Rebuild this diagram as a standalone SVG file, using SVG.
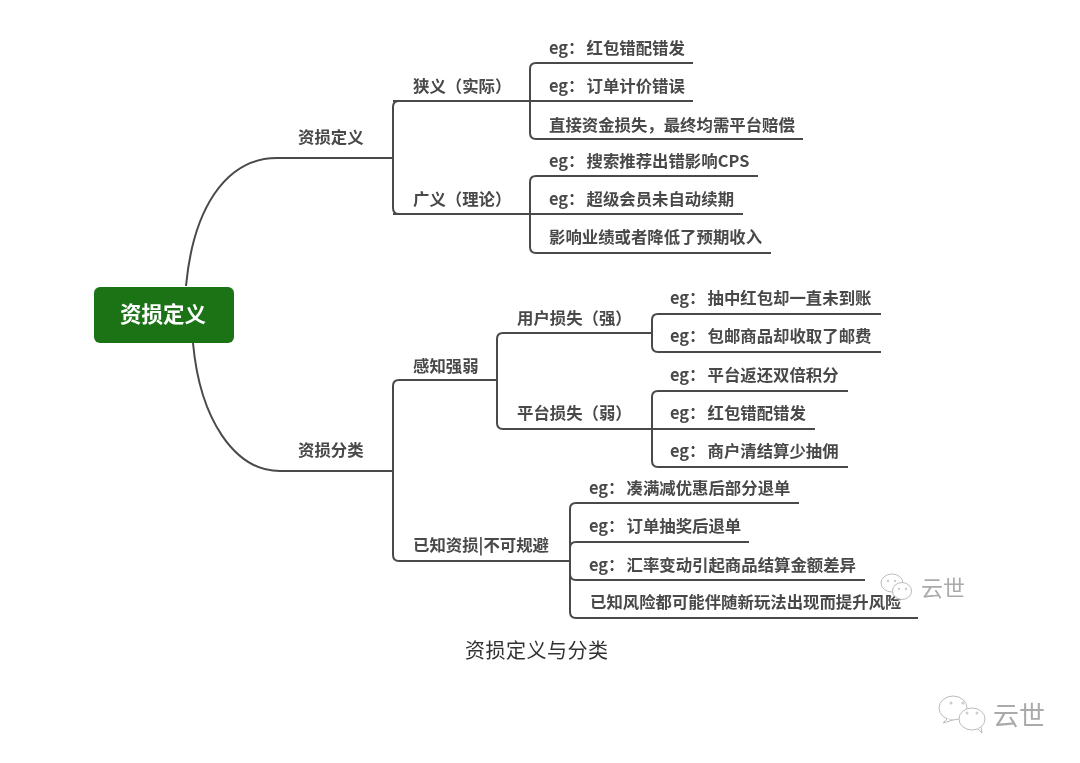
<svg xmlns="http://www.w3.org/2000/svg" width="1080" height="763" viewBox="0 0 1080 763">
<style>
text{font-family:"Noto Sans CJK SC","Noto Sans",sans-serif}
.l{font-size:16.400px;font-weight:700;fill:#484848}
.c{fill:none;stroke:#4a4a4a;stroke-width:2}
.wm{fill:#aaa;font-weight:400}
.b{fill:#fff;stroke:#bbb;stroke-width:1}
.d{fill:#ccc}
</style>
<defs><filter id="soft" x="-5%" y="-5%" width="110%" height="110%"><feGaussianBlur stdDeviation="0.55"/></filter></defs>
<rect width="1080" height="763" fill="#fff"/>
<g filter="url(#soft)">
<g id="connectors" class="c">
<path class="c" d="M186 286C193 210 225 158 277 158H393"/>
<path class="c" d="M193 343C200 420 235 471 280 471H393"/>
<path class="c" d="M413 101H399Q393 101 393 107V208Q393 214 399 214H413"/>
<path class="c" d="M393 101H530M393 214H530"/>
<path class="c" d="M693 63H536Q530 63 530 69V133Q530 139 536 139H803M530 101H693"/>
<path class="c" d="M758 176H536Q530 176 530 182V247Q530 253 536 253H771M530 214H743"/>
<path class="c" d="M497 380H399Q393 380 393 386V555Q393 561 399 561H570"/>
<path class="c" d="M652 333H503Q497 333 497 339V423Q497 429 503 429H815"/>
<path class="c" d="M881 314H658Q652 314 652 320V346Q652 352 658 352H881"/>
<path class="c" d="M848 391H658Q652 391 652 397V461Q652 467 658 467H848"/>
<path class="c" d="M799 503H576Q570 503 570 509V612Q570 618 576 618H918"/>
<path class="c" d="M749 542H576Q570 542 570 548M570 574Q570 580 576 580H865"/>
</g>
<g id="root"><rect x="94" y="287" width="140" height="56" rx="6" fill="#1b7318"/><text x="120" y="322" font-size="21.500" font-weight="700" fill="#fff">资损定义</text></g>
<g id="n1"><text class="l" x="298" y="143">资损定义</text></g>
<g id="n2"><text class="l" x="298" y="456">资损分类</text></g>
<g id="n3"><text class="l" x="413" y="92">狭义（实际）</text></g>
<g id="n4"><text class="l" x="413" y="205">广义（理论）</text></g>
<g id="n5"><text class="l" x="413" y="372">感知强弱</text></g>
<g id="n6"><text class="l" x="413" y="551">已知资损|不可规避</text></g>
<g id="n7"><text class="l" x="517" y="324">用户损失（强）</text></g>
<g id="n8"><text class="l" x="517" y="419">平台损失（弱）</text></g>
<g id="n9"><text class="l" x="549" y="54">eg：<tspan dx="2">红包错配错发</tspan></text></g>
<g id="n10"><text class="l" x="549" y="92">eg：<tspan dx="2">订单计价错误</tspan></text></g>
<g id="n11"><text class="l" x="549" y="131">直接资金损失，最终均需平台赔偿</text></g>
<g id="n12"><text class="l" x="549" y="167">eg：<tspan dx="2">搜索推荐出错影响CPS</tspan></text></g>
<g id="n13"><text class="l" x="549" y="205">eg：<tspan dx="2">超级会员未自动续期</tspan></text></g>
<g id="n14"><text class="l" x="549" y="243">影响业绩或者降低了预期收入</text></g>
<g id="n15"><text class="l" x="670" y="304">eg：<tspan dx="2">抽中红包却一直未到账</tspan></text></g>
<g id="n16"><text class="l" x="670" y="342">eg：<tspan dx="2">包邮商品却收取了邮费</tspan></text></g>
<g id="n17"><text class="l" x="670" y="381">eg：<tspan dx="2">平台返还双倍积分</tspan></text></g>
<g id="n18"><text class="l" x="670" y="419">eg：<tspan dx="2">红包错配错发</tspan></text></g>
<g id="n19"><text class="l" x="670" y="457">eg：<tspan dx="2">商户清结算少抽佣</tspan></text></g>
<g id="n20"><text class="l" x="589" y="494">eg：<tspan dx="2">凑满减优惠后部分退单</tspan></text></g>
<g id="n21"><text class="l" x="589" y="532">eg：<tspan dx="2">订单抽奖后退单</tspan></text></g>
<g id="n22"><text class="l" x="589" y="571">eg：<tspan dx="2">汇率变动引起商品结算金额差异</tspan></text></g>
<g id="n23"><text class="l" x="590" y="608">已知风险都可能伴随新玩法出现而提升风险</text></g>
<text x="465" y="658" font-size="20" fill="#333" letter-spacing="0.500">资损定义与分类</text>
<g id="wm1">
<ellipse class="b" cx="892" cy="583" rx="11" ry="9"/><ellipse class="b" cx="902" cy="591" rx="9.500" ry="8.500"/>
<circle class="d" cx="888" cy="581" r="1.200"/><circle class="d" cx="895" cy="581" r="1.200"/><circle class="d" cx="899" cy="589" r="1.200"/><circle class="d" cx="906" cy="589" r="1.200"/>
<text class="wm" x="921" y="596" font-size="22">云世</text></g>
<g id="wm2">
<ellipse class="b" cx="953" cy="708" rx="14" ry="12"/><ellipse class="b" cx="972" cy="719" rx="13" ry="11"/>
<path class="b" d="M978 729L982 733L981 727M947 719L943 723L953 720"/>
<circle class="d" cx="951" cy="703" r="1.500"/><circle class="d" cx="963" cy="703" r="1.500"/><circle class="d" cx="967" cy="713" r="1.500"/><circle class="d" cx="977" cy="713" r="1.500"/>
<text class="wm" x="993" y="725" font-size="26">云世</text></g>
</g>
</svg>
